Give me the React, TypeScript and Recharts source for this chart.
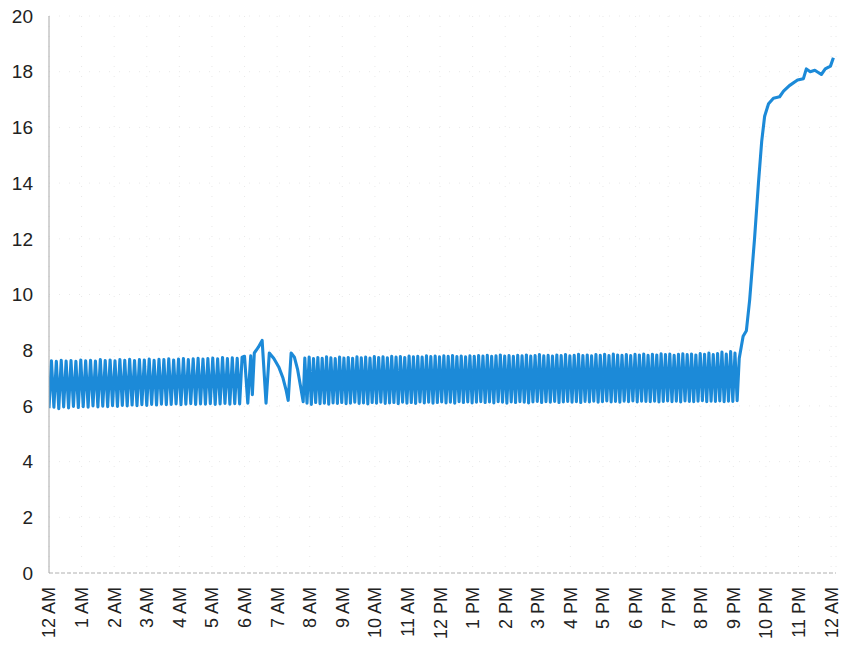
import { CartesianGrid, Line, LineChart, XAxis, YAxis } from "recharts";

const hourLabels = [
  "12 AM", "1 AM", "2 AM", "3 AM", "4 AM", "5 AM", "6 AM", "7 AM", "8 AM", "9 AM", "10 AM", "11 AM",
  "12 PM", "1 PM", "2 PM", "3 PM", "4 PM", "5 PM", "6 PM", "7 PM", "8 PM", "9 PM", "10 PM", "11 PM", "12 AM",
];
const yTicks = [0, 2, 4, 6, 8, 10, 12, 14, 16, 18, 20];

// night cycling, 12 AM - 6 AM (one low/high pair every 9 min)
const nightLows = [
  5.92, 5.95, 5.9, 5.96, 5.93, 5.98, 5.94, 5.97, 5.95, 6.0, 5.96, 5.99, 5.97, 6.01, 5.98, 6.02, 6.0, 6.03, 6.01, 6.04,
  6.02, 6.05, 6.03, 6.06, 6.04, 6.05, 6.07, 6.04, 6.06, 6.08, 6.05, 6.07, 6.06, 6.08, 6.05, 6.07, 6.09, 6.06, 6.08, 6.07,
];
const nightHighs = [
  7.62, 7.6, 7.64, 7.61, 7.63, 7.6, 7.65, 7.62, 7.64, 7.61, 7.66, 7.63, 7.65, 7.62, 7.66, 7.64, 7.67, 7.63, 7.66, 7.65,
  7.68, 7.64, 7.67, 7.66, 7.69, 7.65, 7.68, 7.7, 7.66, 7.69, 7.71, 7.68, 7.7, 7.72, 7.69, 7.74, 7.7, 7.73, 7.71, 7.75,
];

// irregular stretch around 6-8 AM: [hour, value]
const morningPoints: [number, number][] = [
  [6.0, 7.78], [6.1, 6.1], [6.19, 7.8], [6.24, 6.4], [6.3, 7.9], [6.42, 8.1], [6.54, 8.35], [6.66, 6.1],
  [6.76, 7.9], [6.9, 7.7], [7.05, 7.4], [7.18, 7.0], [7.28, 6.55], [7.34, 6.2], [7.43, 7.9], [7.53, 7.75],
  [7.63, 7.3], [7.72, 6.7], [7.8, 6.15],
];

// day cycling, ~7:50 AM - 9 PM (one high/low pair every 8 min)
const dayHighs = [
  7.72, 7.75, 7.7, 7.74, 7.71, 7.76, 7.73, 7.7, 7.75, 7.72, 7.74, 7.71, 7.76, 7.73, 7.75, 7.72, 7.77, 7.74, 7.76, 7.73,
  7.78, 7.75, 7.77, 7.74, 7.79, 7.76, 7.78, 7.75, 7.8, 7.77, 7.79, 7.76, 7.8, 7.78, 7.81, 7.77, 7.79, 7.76, 7.8, 7.78,
  7.81, 7.79, 7.82, 7.78, 7.8, 7.83, 7.79, 7.81, 7.78, 7.82, 7.8, 7.83, 7.79, 7.81, 7.84, 7.8, 7.82, 7.79, 7.83, 7.81,
  7.84, 7.8, 7.82, 7.85, 7.81, 7.83, 7.8, 7.84, 7.82, 7.85, 7.81, 7.86, 7.83, 7.82, 7.84, 7.81, 7.85, 7.83, 7.86, 7.82,
  7.85, 7.83, 7.87, 7.84, 7.86, 7.82, 7.85, 7.87, 7.84, 7.86, 7.83, 7.88, 7.85, 7.9, 7.84, 7.88, 7.93, 7.86, 7.95, 7.9,
];
const dayLows = [
  6.1, 6.05, 6.12, 6.08, 6.1, 6.06, 6.11, 6.09, 6.12, 6.08, 6.1, 6.13, 6.09, 6.11, 6.07, 6.12, 6.1, 6.13, 6.09, 6.11,
  6.12, 6.08, 6.13, 6.1, 6.12, 6.09, 6.14, 6.11, 6.13, 6.1, 6.12, 6.14, 6.11, 6.13, 6.1, 6.15, 6.12, 6.14, 6.11, 6.13,
  6.15, 6.12, 6.14, 6.11, 6.15, 6.13, 6.1, 6.14, 6.12, 6.15, 6.13, 6.11, 6.14, 6.16, 6.12, 6.15, 6.13, 6.16, 6.12, 6.14,
  6.16, 6.13, 6.15, 6.12, 6.16, 6.14, 6.17, 6.13, 6.15, 6.18, 6.14, 6.16, 6.13, 6.17, 6.15, 6.18, 6.14, 6.17, 6.16, 6.15,
  6.17, 6.14, 6.16, 6.18, 6.15, 6.17, 6.14, 6.18, 6.16, 6.15, 6.17, 6.19, 6.15, 6.17, 6.16, 6.18, 6.15, 6.17, 6.16, 6.19,
];

// evening climb, after 9 PM: [hour, value]
const eveningPoints: [number, number][] = [
  [21.18, 7.7], [21.3, 8.5], [21.4, 8.7], [21.5, 9.8], [21.65, 12.0], [21.77, 14.0], [21.87, 15.5],
  [21.96, 16.4], [22.08, 16.85], [22.23, 17.05], [22.42, 17.1], [22.54, 17.3], [22.72, 17.5], [22.97, 17.7],
  [23.15, 17.75], [23.24, 18.1], [23.36, 18.0], [23.5, 18.05], [23.7, 17.9], [23.82, 18.1], [23.98, 18.2],
  [24.07, 18.5],
];

interface Point {
  h: number;
  v: number;
}

const data: Point[] = [];
nightLows.forEach((low, i) => {
  data.push({ h: (i * 9) / 60, v: low });
  data.push({ h: (i * 9 + 4.5) / 60, v: nightHighs[i] });
});
morningPoints.forEach(([h, v]) => data.push({ h, v }));
dayHighs.forEach((high, i) => {
  data.push({ h: 7.85 + (i * 8) / 60, v: high });
  data.push({ h: 7.85 + (i * 8 + 4) / 60, v: dayLows[i] });
});
eveningPoints.forEach(([h, v]) => data.push({ h, v }));

const FONT = "'Liberation Sans', Arial, sans-serif";

function HourTick({ x, y, payload }: { x: number; y: number; payload: { value: number } }) {
  return (
    <g transform={`translate(${x},${y})`}>
      <text
        textAnchor="end"
        transform="rotate(-90)"
        dy="0.36em"
        fill="#222"
        fontSize={18}
        fontFamily={FONT}
      >
        {hourLabels[payload.value]}
      </text>
    </g>
  );
}

export default function App() {
  // page body has an 8px margin; pull the chart up so the top label has room
  return (
    <div style={{ width: 849, height: 651, marginTop: -8, background: "#fff" }}>
      <LineChart width={849} height={651} data={data} margin={{ top: 16, right: 21, bottom: 0, left: 0 }}>
        <CartesianGrid stroke="#e8e8e8" strokeDasharray="1 9" />
        <XAxis
          dataKey="h"
          type="number"
          domain={[0, 24.15]}
          ticks={hourLabels.map((_, i) => i)}
          interval={0}
          allowDataOverflow
          height={78}
          tickLine={false}
          tickSize={0}
          tickMargin={14}
          axisLine={{ stroke: "#b0b0b0", strokeDasharray: "4 2" }}
          tick={HourTick}
        />
        <YAxis
          domain={[0, 20]}
          ticks={yTicks}
          interval={0}
          width={41}
          tickLine={false}
          tickSize={0}
          tickMargin={16}
          axisLine={{ stroke: "#a8a8a8" }}
          tick={{ fill: "#222", fontSize: 19, fontFamily: FONT }}
        />
        <Line
          type="linear"
          dataKey="v"
          stroke="#1c8ad8"
          strokeWidth={3.1}
          strokeLinejoin="round"
          dot={false}
          isAnimationActive={false}
        />
      </LineChart>
    </div>
  );
}
